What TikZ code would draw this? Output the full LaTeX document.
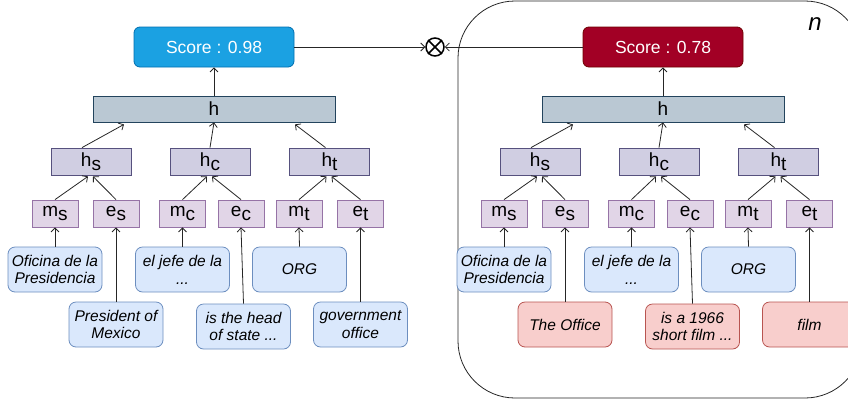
\documentclass[tikz,border=0pt]{standalone}
\usepackage{fontspec}
\setmainfont{Liberation Sans}
\usetikzlibrary{arrows.meta,calc}
\definecolor{scoreblue}{HTML}{1BA1E2}
\definecolor{scorebluel}{HTML}{006EAF}
\definecolor{scorered}{HTML}{A20025}
\definecolor{scoredl}{HTML}{6F0000}
\definecolor{hfill}{HTML}{BAC8D3}
\definecolor{hline}{HTML}{23445D}
\definecolor{subfill}{HTML}{D0CEE2}
\definecolor{subline}{HTML}{56517E}
\definecolor{mefill}{HTML}{E1D5E7}
\definecolor{meline}{HTML}{9673A6}
\definecolor{lbfill}{HTML}{DAE8FC}
\definecolor{lbline}{HTML}{6C8EBF}
\definecolor{lrfill}{HTML}{F8CECC}
\definecolor{lrline}{HTML}{B85450}
\newcommand{\sbs}[2]{#1\raisebox{-4pt}{#2}}
\tikzset{
  base/.style={inner sep=0pt, align=center, line width=0.8pt},
  scorebox/.style={base, minimum width=160pt, minimum height=40pt, rounded corners=6pt, text=white, font=\fontsize{17.5}{20}\selectfont},
  sblue/.style={scorebox, fill=scoreblue, draw=scorebluel},
  sred/.style={scorebox, fill=scorered, draw=scoredl},
  hbox/.style={base, minimum width=242pt, minimum height=26pt, fill=hfill, draw=hline, font=\fontsize{19}{20}\selectfont},
  subbox/.style={base, minimum width=80pt, minimum height=27pt, fill=subfill, draw=subline, font=\fontsize{19}{20}\selectfont},
  mebox/.style={base, minimum width=46pt, minimum height=27pt, fill=mefill, draw=meline, font=\fontsize{19}{20}\selectfont},
  lab/.style={base, minimum width=94pt, minimum height=45pt, rounded corners=7pt, font=\fontsize{15.5}{17.8}\selectfont\itshape},
  lblue/.style={lab, fill=lbfill, draw=lbline},
  lred/.style={lab, fill=lrfill, draw=lrline},
  arr/.style={draw=black!85, line width=0.8pt, -{Straight Barb[length=4pt,width=8pt]}},
}
\begin{document}
\begin{tikzpicture}[x=1pt,y=-1pt]
\useasboundingbox (0,0) rectangle (848,405);
\clip (0,0) rectangle (848,405);
% right frame
\draw[line width=0.8pt, draw=black!85, rounded corners=57pt] (458,1) rectangle (862,398);
\node[font=\fontsize{24}{24}\selectfont\itshape] (nlab) at (815,24) {n};
% ---------- left panel
\node[sblue] (ls) at (214,47) {Score : 0.98};
\node[hbox] (lh) at (214,109) {h};
\node[subbox] (lhs) at (91,161.5) {\sbs{h}{s}};
\node[subbox] (lhc) at (210,161.5) {\sbs{h}{c}};
\node[subbox] (lht) at (329.5,161.5) {\sbs{h}{t}};
\node[mebox] (lms) at (55,213.5) {\sbs{m}{s}};
\node[mebox] (les) at (116,213.5) {\sbs{e}{s}};
\node[mebox] (lmc) at (182.5,213.5) {\sbs{m}{c}};
\node[mebox] (lec) at (241,213.5) {\sbs{e}{c}};
\node[mebox] (lmt) at (299,213.5) {\sbs{m}{t}};
\node[mebox] (let) at (360.5,213.5) {\sbs{e}{t}};
\node[lblue] (lofi) at (55,269.5) {Oficina de la\\Presidencia};
\node[lblue] (lpres) at (116,324.5) {President of\\Mexico};
\node[lblue] (ljefe) at (182.5,269.5) {el jefe de la\\...};
\node[lblue] (lhead) at (243.5,326.5) {is the head\\of state ...};
\node[lblue] (lorg) at (299.5,269.5) {ORG};
\node[lblue] (lgov) at (360.5,324.5) {government\\office};
% ---------- right panel
\node[sred] (rs) at (663,47) {Score : 0.78};
\node[hbox] (rh) at (663,109) {h};
\node[subbox] (rhs) at (540,161.5) {\sbs{h}{s}};
\node[subbox] (rhc) at (659,161.5) {\sbs{h}{c}};
\node[subbox] (rht) at (778.5,161.5) {\sbs{h}{t}};
\node[mebox] (rms) at (504,213.5) {\sbs{m}{s}};
\node[mebox] (res) at (565,213.5) {\sbs{e}{s}};
\node[mebox] (rmc) at (631.5,213.5) {\sbs{m}{c}};
\node[mebox] (rec) at (690,213.5) {\sbs{e}{c}};
\node[mebox] (rmt) at (748,213.5) {\sbs{m}{t}};
\node[mebox] (ret) at (809.5,213.5) {\sbs{e}{t}};
\node[lblue] (rofi) at (504,269.5) {Oficina de la\\Presidencia};
\node[lred] (roff) at (565,324.5) {The Office};
\node[lblue] (rjefe) at (631.5,269.5) {el jefe de la\\...};
\node[lred] (rhead) at (692.5,326.5) {is a 1966\\short film ...};
\node[lblue] (rorg) at (748.5,269.5) {ORG};
\node[lred] (rfilm) at (809.5,324.5) {film};
% otimes
\node[draw, circle, line width=1.5pt, minimum size=18pt, inner sep=0pt] (ot) at (435,47) {};
\draw[line width=1.5pt] (ot.north east) -- (ot.south west);
\draw[line width=1.5pt] (ot.north west) -- (ot.south east);
\draw[arr] (ls.east) -- (ot.west);
\draw[arr] (rs.west) -- (ot.east);
% connectors, both panels
\foreach \p in {l,r}{
  \draw[arr] (\p h.north) -- (\p s.south);
  \draw[arr] ([xshift=-9pt]\p hs.north) -- ([xshift=-90pt,yshift=-2pt]\p h.south);
  \draw[arr] (\p hc.north) -- (\p h.south);
  \draw[arr] ([xshift=-4pt]\p ht.north) -- ([xshift=81pt,yshift=-2pt]\p h.south);
  \draw[arr] (\p ms.north) -- ([xshift=-3pt,yshift=-1pt]\p hs.south);
  \draw[arr] (\p es.north) -- ([xshift=2pt,yshift=-1pt]\p hs.south);
  \draw[arr] (\p mc.north) -- ([xshift=-3pt,yshift=-1pt]\p hc.south);
  \draw[arr] (\p ec.north) -- ([xshift=2pt,yshift=-1pt]\p hc.south);
  \draw[arr] (\p mt.north) -- ([xshift=-3pt,yshift=-1pt]\p ht.south);
  \draw[arr] (\p et.north) -- ([xshift=2pt,yshift=-1pt]\p ht.south);
  \draw[arr] (\p ofi.north) -- (\p ms.south);
  \draw[arr] (\p jefe.north) -- (\p mc.south);
  \draw[arr] (\p head.north) -- (\p ec.south);
  \draw[arr] (\p org.north) -- (\p mt.south);
}
\draw[arr] (lpres.north) -- (les.south);
\draw[arr] (lgov.north) -- (let.south);
\draw[arr] (roff.north) -- (res.south);
\draw[arr] (rfilm.north) -- (ret.south);
\end{tikzpicture}
\end{document}
